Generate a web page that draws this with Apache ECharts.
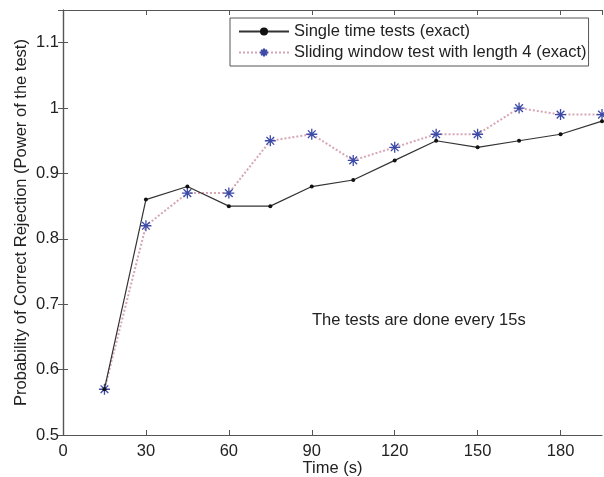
<!DOCTYPE html>
<html>
<head>
<meta charset="utf-8">
<script src="https://cdn.jsdelivr.net/npm/echarts@6/dist/echarts.min.js"></script>
<style>
  html, body { margin: 0; padding: 0; background: #fff; }
  #chart { width: 604px; height: 477px; }
</style>
</head>
<body>
<div id="chart"></div>
<script>
var timeList = [15, 30, 45, 60, 75, 90, 105, 120, 135, 150, 165, 180, 195]
var singleList = [0.57, 0.86, 0.88, 0.85, 0.85, 0.88, 0.89, 0.92, 0.95, 0.94, 0.95, 0.96, 0.98]
var slidingList = [0.57, 0.82, 0.87, 0.87, 0.95, 0.96, 0.92, 0.94, 0.96, 0.96, 1.0, 0.99, 0.99]
var seriesNames = ['Single time tests (exact)', 'Sliding window test with length 4 (exact)']
var noteText = 'The tests are done every 15s'

var myChart = echarts.init(document.getElementById('chart'))

function pairs(xs, ys) {
  return xs.map(function(x, i) {
    return [x, ys[i]]
  })
}

var fontFamily = 'Liberation Sans, Arial, Helvetica, sans-serif'
var axisColor = '#555'
var fontSize = 16.5
// asterisk marker
var starPath = 'path://M0,-5L0,5M-5,0L5,0M-3.5,-3.5L3.5,3.5M-3.5,3.5L3.5,-3.5'

var option = {
  animation: false,
  backgroundColor: '#fff',
  textStyle: { fontFamily: fontFamily },
  grid: { left: 63, right: 2, top: 10, bottom: 42, outerBoundsMode: 'none' },
  legend: {
    orient: 'vertical',
    left: 230,
    top: 18,
    padding: [5, 2, 5, 8],
    itemGap: 4,
    itemWidth: 50,
    itemHeight: 10,
    borderColor: '#555',
    borderWidth: 1,
    textStyle: { fontSize: 16.5, color: '#222', fontFamily: fontFamily },
    data: seriesNames
  },
  xAxis: [
    {
      type: 'value',
      min: 0,
      max: 195,
      interval: 30,
      name: 'Time (s)',
      nameLocation: 'middle',
      nameGap: 25,
      nameMoveOverlap: false,
      nameTextStyle: { fontSize: fontSize, color: '#222' },
      axisLine: { lineStyle: { color: axisColor, width: 1.2 } },
      axisTick: { inside: true, length: 5, lineStyle: { color: axisColor } },
      axisLabel: { fontSize: fontSize, color: '#222', margin: 8, showMaxLabel: false },
      splitLine: { show: false }
    },
    {
      type: 'value',
      position: 'top',
      min: 0,
      max: 195,
      interval: 30,
      axisLine: { lineStyle: { color: axisColor, width: 1.2 } },
      axisTick: { inside: true, length: 5, lineStyle: { color: axisColor } },
      axisLabel: { show: false },
      splitLine: { show: false }
    }
  ],
  yAxis: [
    {
      type: 'value',
      min: 0.5,
      max: 1.15,
      interval: 0.1,
      name: 'Probability of Correct Rejection (Power of the test)',
      nameLocation: 'middle',
      nameGap: 33,
      nameMoveOverlap: false,
      nameTextStyle: { fontSize: fontSize, color: '#222' },
      axisLine: { show: true, lineStyle: { color: axisColor, width: 1.2 } },
      axisTick: { show: true, inside: true, length: 5, lineStyle: { color: axisColor } },
      axisLabel: { fontSize: fontSize, color: '#222', margin: 4, showMaxLabel: false },
      splitLine: { show: false }
    },
    {
      type: 'value',
      position: 'right',
      min: 0.5,
      max: 1.15,
      interval: 0.1,
      axisLine: { show: true, lineStyle: { color: axisColor, width: 1.2 } },
      axisTick: { show: true, inside: true, length: 5, lineStyle: { color: axisColor } },
      axisLabel: { show: false },
      splitLine: { show: false }
    }
  ],
  graphic: [
    {
      type: 'text',
      left: 312,
      top: 312,
      style: { text: noteText, fontSize: fontSize, fill: '#222', fontFamily: fontFamily }
    }
  ],
  series: [
    {
      name: seriesNames[0],
      type: 'line',
      data: pairs(timeList, singleList),
      symbol: 'circle',
      symbolSize: 4,
      itemStyle: { color: '#111' },
      lineStyle: { color: '#333', width: 1.2 },
      z: 3
    },
    {
      name: seriesNames[1],
      type: 'line',
      data: pairs(timeList, slidingList),
      symbol: starPath,
      symbolSize: 11,
      itemStyle: { color: '#3c4aa8', borderColor: '#3c4aa8', borderWidth: 1.3 },
      lineStyle: { color: '#d6a6b4', width: 2, type: 'dotted' },
      z: 2
    }
  ]
}

myChart.setOption(option)
window.onresize = function() {
  myChart.resize()
}
</script>
</body>
</html>
